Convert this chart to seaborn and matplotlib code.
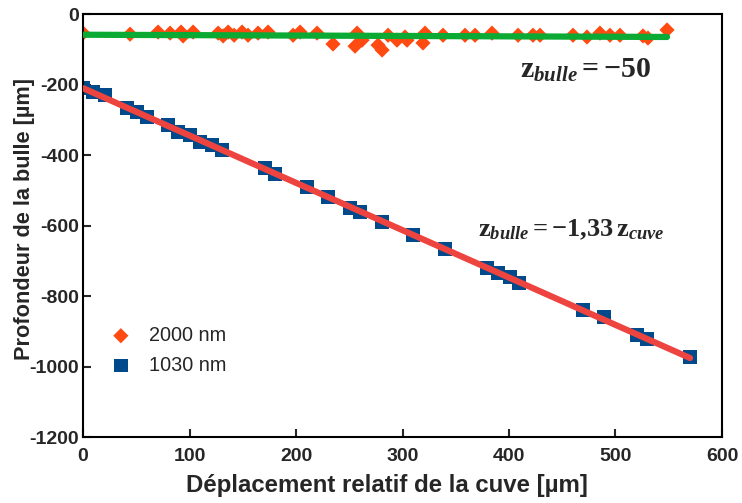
import matplotlib
matplotlib.use("Agg")
import matplotlib.pyplot as plt
import numpy as np
import pandas as pd
import seaborn as sns

# Mesures 2000 nm (losanges orange)
x_2000 = [0, 44.1, 70.4, 81.7, 92.0, 93.9, 103.3, 126.8, 131.5, 136.2, 141.8,
          149.3, 154.9, 164.3, 173.7, 197.2, 203.8, 219.7, 234.7, 255.4, 257.3,
          262.0, 277.0, 280.8, 286.4, 294.8, 302.3, 304.2, 319.2, 321.1, 338.0,
          358.7, 368.1, 384.0, 408.5, 422.5, 429.1, 460.1, 473.2, 485.4, 494.8,
          504.2, 525.8, 530.5, 548.4]
y_2000 = [-54, -57, -51, -54, -51, -62, -51, -54, -62, -51, -60,
          -51, -60, -54, -51, -60, -51, -54, -85, -91, -54,
          -74, -88, -102, -60, -74, -65, -74, -82, -54, -60,
          -60, -60, -54, -60, -60, -60, -60, -65, -54, -60,
          -60, -62, -68, -45]

# Mesures 1030 nm (carres bleus)
x_1030 = [0, 9.4, 20.7, 41.3, 50.7, 60.1, 79.8, 89.2, 100.5, 109.9, 121.1,
          130.5, 170.9, 180.3, 210.3, 230.0, 250.7, 260.1, 280.8, 309.9, 339.9,
          379.3, 389.7, 400.9, 409.4, 469.5, 489.2, 520.2, 529.6, 570.0]
y_1030 = [-210, -221, -230, -267, -278, -292, -315, -335, -343, -363, -372,
          -386, -437, -454, -491, -519, -550, -562, -590, -627, -667,
          -721, -735, -746, -763, -840, -860, -911, -922, -973]

labels = ["2000 nm", "1030 nm"]
x_ticks = [0, 100, 200, 300, 400, 500, 600]
y_ticks = [0, -200, -400, -600, -800, -1000, -1200]

orange = "#FF4A12"
blue = "#004A8C"
green = "#0BAA35"
red = "#EE4440"

sns.set_style("ticks")
plt.rcParams["font.family"] = ["Liberation Sans", "DejaVu Sans"]
plt.rcParams["axes.unicode_minus"] = False
plt.rcParams["mathtext.fontset"] = "custom"
plt.rcParams["mathtext.rm"] = "Liberation Serif:bold"
plt.rcParams["mathtext.it"] = "Liberation Serif:bold:italic"
plt.rcParams["mathtext.bf"] = "Liberation Serif:bold"

fig = plt.figure(figsize=(7.42, 5.03), dpi=100)
ax = fig.add_axes([0.112, 0.131, 0.861, 0.841])

df_a = pd.DataFrame({"x": x_2000, "y": y_2000})
df_b = pd.DataFrame({"x": x_1030, "y": y_1030})

# droites d'ajustement
pa = np.polyfit(x_2000, y_2000, 1)
pb = np.polyfit(x_1030, y_1030, 1)
fa = pd.DataFrame({"x": [min(x_2000), max(x_2000)]})
fa["y"] = np.polyval(pa, fa["x"])
fb = pd.DataFrame({"x": [min(x_1030), max(x_1030)]})
fb["y"] = np.polyval(pb, fb["x"])

sns.scatterplot(data=df_a, x="x", y="y", marker="D", s=60, color=orange,
                edgecolor="none", ax=ax, label=labels[0], zorder=2)
sns.scatterplot(data=df_b, x="x", y="y", marker="s", s=95, color=blue,
                edgecolor="none", ax=ax, label=labels[1], zorder=2)
sns.lineplot(data=fa, x="x", y="y", color=green, lw=4.5, ax=ax, zorder=3)
sns.lineplot(data=fb, x="x", y="y", color=red, lw=4.5, ax=ax, zorder=3)

ax.set_xlim(0, 600)
ax.set_ylim(-1200, 0)
ax.set_xticks(x_ticks)
ax.set_yticks(y_ticks)
ax.tick_params(direction="in", length=6, width=1.5, labelsize=14)
ax.tick_params(axis="x", pad=8)
ax.tick_params(axis="y", pad=3)
for lab in ax.get_xticklabels() + ax.get_yticklabels():
    lab.set_fontweight("bold")
for s in ax.spines.values():
    s.set_linewidth(1.5)
    s.set_visible(True)
    s.set_color("black")

ax.set_xlabel("Déplacement relatif de la cuve [µm]", fontsize=17.25,
              fontweight="bold")
ax.set_ylabel("Profondeur de la bulle [µm]", fontsize=15.7,
              fontweight="bold")
ax.xaxis.set_label_coords(0.476, -0.088)
ax.yaxis.set_label_coords(-0.075, 0.515)

ax.text(0.787, 0.868, r"$\mathrm{z}_{\mathit{bulle}}\mathrm{=-50}$",
        transform=ax.transAxes, ha="center", va="center", fontsize=21.5)
ax.text(0.764, 0.489, r"$\mathrm{z}_{\mathit{bulle}}\mathrm{=-1{,}33\,z}_{\mathit{cuve}}$",
        transform=ax.transAxes, ha="center", va="center", fontsize=19)

ax.legend(loc="center left", bbox_to_anchor=(0.0, 0.205), frameon=False,
          fontsize=14.3, handletextpad=0.4, labelspacing=0.55)

fig.savefig("out.png", dpi=100)
